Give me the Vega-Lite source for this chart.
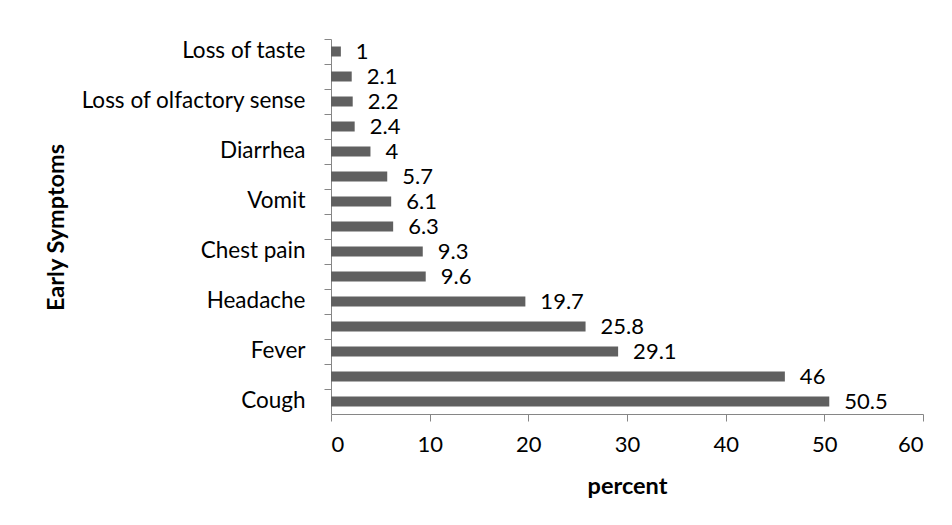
{
  "$schema": "https://vega.github.io/schema/vega-lite/v6.json",
  "autosize": "none",
  "width": 592,
  "height": 375,
  "padding": {"left": 331, "top": 39, "right": 29, "bottom": 111},
  "background": "white",
  "config": {
    "font": "Lato",
    "view": {"stroke": null},
    "axis": {"labelFont": "Lato", "titleFont": "Lato", "labelColor": "black", "titleColor": "black", "domainColor": "#868686", "tickColor": "#868686", "grid": false}
  },
  "data": {
    "values": [
      {"symptom": "Loss of taste", "percent": 1},
      {"symptom": "Chills", "percent": 2.1},
      {"symptom": "Loss of olfactory sense", "percent": 2.2},
      {"symptom": "Nausea", "percent": 2.4},
      {"symptom": "Diarrhea", "percent": 4},
      {"symptom": "Runny nose", "percent": 5.7},
      {"symptom": "Vomit", "percent": 6.1},
      {"symptom": "Dyspnea", "percent": 6.3},
      {"symptom": "Chest pain", "percent": 9.3},
      {"symptom": "Myalgia", "percent": 9.6},
      {"symptom": "Headache", "percent": 19.7},
      {"symptom": "Sore throat", "percent": 25.8},
      {"symptom": "Fever", "percent": 29.1},
      {"symptom": "Fatigue", "percent": 46},
      {"symptom": "Cough", "percent": 50.5}
    ]
  },
  "encoding": {
    "y": {
      "field": "symptom",
      "type": "nominal",
      "sort": null,
      "scale": {"paddingInner": 0, "paddingOuter": 0},
      "axis": {
        "title": "Early Symptoms",
        "titleFontSize": 23.5,
        "titleFontWeight": "bold",
        "titleX": -275,
        "titleY": 188,
        "titleBaseline": "middle",
        "titleAngle": 270,
        "labelFontSize": 22.5,
        "labelPadding": 19,
        "labelLimit": 0,
        "tickSize": 7,
        "bandPosition": 0,
        "labelOffset": -1,
        "labelExpr": "indexof(['Loss of taste','Loss of olfactory sense','Diarrhea','Vomit','Chest pain','Headache','Fever','Cough'], datum.value) >= 0 ? datum.value : ''"
      }
    },
    "x": {
      "field": "percent",
      "type": "quantitative",
      "scale": {"domain": [0, 60], "nice": false},
      "axis": {
        "title": "percent",
        "values": [0, 10, 20, 30, 40, 50, 60],
        "titleFontSize": 23.5,
        "titleFontWeight": "bold",
        "titlePadding": 19,
        "labelFontSize": 22,
        "labelPadding": 13,
        "tickSize": 7
      }
    }
  },
  "layer": [
    {
      "mark": {"type": "bar", "color": "#606060", "height": {"band": 0.4}}
    },
    {
      "mark": {"type": "text", "align": "left", "baseline": "middle", "dx": 15, "dy": 0, "fontSize": 22, "color": "black"},
      "encoding": {"text": {"field": "percent", "type": "quantitative"}}
    }
  ]
}
